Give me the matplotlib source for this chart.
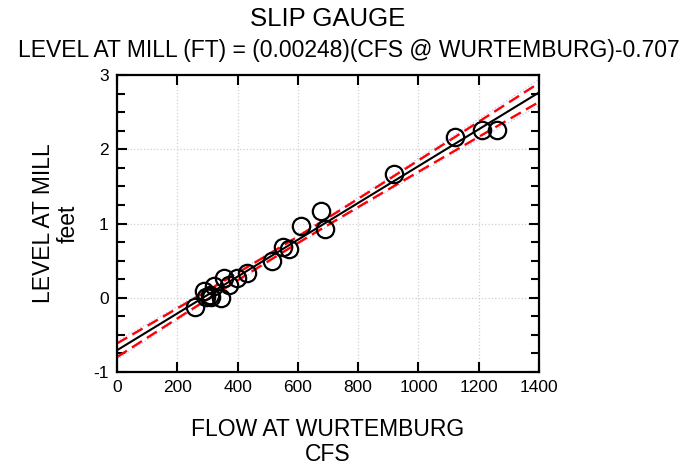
import numpy as np
import matplotlib
matplotlib.use('Agg')
import matplotlib.pyplot as plt
from matplotlib.ticker import MultipleLocator

plt.rcParams['font.family'] = ['Liberation Sans', 'DejaVu Sans']
plt.rcParams['axes.unicode_minus'] = False

# Datos
cfs = [260, 289, 296, 307, 313, 322, 344, 354, 370, 398, 432,
       514, 552, 569, 609, 676, 690, 919, 1120, 1211, 1262]
nivel = [-0.12, 0.09, 0.01, 0.04, 0.01, 0.16, 0.00, 0.26, 0.17, 0.27, 0.34,
         0.50, 0.68, 0.66, 0.96, 1.17, 0.92, 1.67, 2.17, 2.26, 2.26]

pendiente = 0.00248
intercepto = -0.707

x = np.array(cfs, dtype=float)
y = np.array(nivel, dtype=float)
n = len(x)

# Bandas de confianza alrededor de la recta
xs = np.linspace(0, 1400, 200)
ys = pendiente * xs + intercepto
resid = y - (pendiente * x + intercepto)
s = np.sqrt(np.sum(resid ** 2) / (n - 2))
sxx = np.sum((x - x.mean()) ** 2)
se = s * np.sqrt(1.0 / n + (xs - x.mean()) ** 2 / sxx)
t95 = 2.093
t99 = 2.861

fig = plt.figure(figsize=(6.94, 4.66), dpi=100)
ax = fig.add_axes([0.1686, 0.2017, 0.6081, 0.6373])

ax.plot(xs, ys + t99 * se, color='#c4c4ff', linestyle=':', linewidth=0.9)
ax.plot(xs, ys - t99 * se, color='#c4c4ff', linestyle=':', linewidth=0.9)
ax.plot(xs, ys, color='black', linewidth=1.5)
ax.plot(xs, ys + t95 * se, color='red', linestyle=(0, (5, 2.5)), linewidth=1.7)
ax.plot(xs, ys - t95 * se, color='red', linestyle=(0, (5, 2.5)), linewidth=1.7)
ax.plot(x, y, linestyle='none', marker='o', markersize=12.5, markerfacecolor='none',
        markeredgecolor='black', markeredgewidth=1.6)

ax.set_xlim(0, 1400)
ax.set_ylim(-1, 3)
ax.xaxis.set_major_locator(MultipleLocator(200))
ax.yaxis.set_major_locator(MultipleLocator(1))
ax.yaxis.set_minor_locator(MultipleLocator(0.25))
ax.tick_params(which='both', direction='in', top=True, right=True, labelsize=12.5, width=1.5)
ax.tick_params(which='major', length=7, pad=6)
ax.tick_params(which='minor', length=6)
ax.grid(True, which='major', color='#d0d0d0', linestyle=':', linewidth=0.9)
for sp in ax.spines.values():
    sp.set_linewidth(1.6)

ax.set_xlabel('FLOW AT WURTEMBURG\nCFS', fontsize=16.5, labelpad=16, linespacing=1.12)
ax.set_ylabel('LEVEL AT MILL\nfeet', fontsize=16.5, labelpad=10, linespacing=1.05)

fig.text(328 / 694, 1 - 19 / 466, 'SLIP GAUGE', fontsize=18.5, ha='center', va='center')
fig.text(349 / 694, 1 - 50 / 466, 'LEVEL AT MILL (FT) = (0.00248)(CFS @ WURTEMBURG)-0.707',
         fontsize=16.5, ha='center', va='center')

fig.savefig('out.png', dpi=100)
